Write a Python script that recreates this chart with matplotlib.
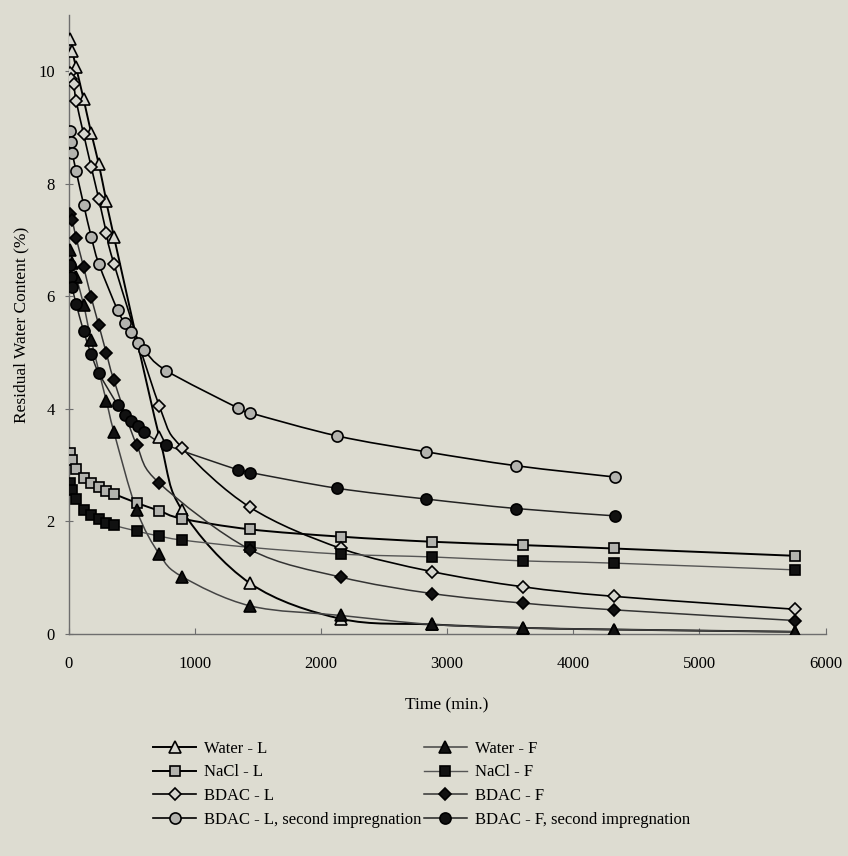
import numpy as np
import matplotlib
matplotlib.use("Agg")
import matplotlib.pyplot as plt
from matplotlib.path import Path
from matplotlib.patches import PathPatch
from matplotlib.lines import Line2D

plt.rcParams['font.family'] = ['Liberation Serif', 'DejaVu Serif']

# residual water content (%) vs. drying time (min.)
water_l_t = [15, 30, 60, 120, 180, 240, 300, 360, 720, 900, 1440, 2160, 2880, 3600, 4320, 5760]
water_l = [10.58, 10.36, 10.07, 9.50, 8.90, 8.35, 7.69, 7.06, 3.50, 2.20, 0.90, 0.27, 0.17, 0.11, 0.08, 0.04]

water_f_t = [15, 30, 60, 120, 180, 300, 360, 540, 720, 900, 1440, 2160, 2880, 3600, 4320, 5760]
water_f = [6.82, 6.60, 6.35, 5.85, 5.22, 4.14, 3.59, 2.20, 1.42, 1.02, 0.50, 0.33, 0.17, 0.11, 0.08, 0.04]

nacl_t = [15, 30, 60, 120, 180, 240, 300, 360, 540, 720, 900, 1440, 2160, 2880, 3600, 4320, 5760]
nacl_l = [3.22, 3.10, 2.94, 2.78, 2.69, 2.61, 2.54, 2.49, 2.33, 2.19, 2.05, 1.86, 1.73, 1.64, 1.58, 1.52, 1.39]
nacl_f = [2.68, 2.56, 2.40, 2.21, 2.11, 2.05, 1.97, 1.93, 1.83, 1.74, 1.67, 1.54, 1.42, 1.37, 1.30, 1.26, 1.14]

bdac_l_t = [10, 20, 40, 60, 120, 180, 240, 300, 360, 720, 900, 1440, 2160, 2880, 3600, 4320, 5760]
bdac_l = [9.97, 9.87, 9.78, 9.48, 8.88, 8.30, 7.73, 7.13, 6.58, 4.05, 3.31, 2.25, 1.52, 1.11, 0.84, 0.67, 0.44]

bdac_f_t = [10, 30, 60, 120, 180, 240, 300, 360, 540, 720, 1440, 2160, 2880, 3600, 4320, 5760]
bdac_f = [7.47, 7.35, 7.04, 6.52, 5.98, 5.49, 4.99, 4.51, 3.36, 2.68, 1.50, 1.01, 0.72, 0.55, 0.43, 0.24]

second_t = [15, 20, 30, 60, 120, 180, 240, 390, 450, 495, 550, 600, 775, 1340, 1440, 2130, 2830, 3550, 4330]
bdac_l2 = [8.93, 8.74, 8.55, 8.23, 7.63, 7.06, 6.58, 5.75, 5.52, 5.36, 5.18, 5.04, 4.68, 4.02, 3.93, 3.52, 3.24, 2.99, 2.79]
bdac_f2 = [6.55, 6.35, 6.16, 5.87, 5.38, 4.97, 4.64, 4.07, 3.89, 3.79, 3.69, 3.59, 3.36, 2.92, 2.87, 2.59, 2.40, 2.23, 2.10]

BG = '#dddcd1'
GREY = '#b3b3ae'
LIGHT = '#d6d6cf'
DARK = '#111111'


def smooth_path(x, y):
    # Excel style smoothed line: cubic bezier through the points
    p = np.column_stack([x, y]).astype(float)
    n = len(p)
    verts = [p[0]]
    codes = [Path.MOVETO]
    for i in range(n - 1):
        a = p[i - 1] if i > 0 else p[i]
        d = p[i + 2] if i + 2 < n else p[i + 1]
        verts += [p[i] + (p[i + 1] - a) / 6, p[i + 1] - (d - p[i]) / 6, p[i + 1]]
        codes += [Path.CURVE4] * 3
    return Path(verts, codes)


series = [
    ("Water - L", water_l_t, water_l, '^', 8, LIGHT, 'black', 1.4),
    ("NaCl - L", nacl_t, nacl_l, 's', 7, GREY, 'black', 1.4),
    ("BDAC - L", bdac_l_t, bdac_l, 'D', 6, LIGHT, 'black', 1.2),
    ("BDAC - L, second impregnation", second_t, bdac_l2, 'o', 8, GREY, 'black', 1.2),
    ("Water - F", water_f_t, water_f, '^', 8, DARK, '#444444', 1.1),
    ("NaCl - F", nacl_t, nacl_f, 's', 7, DARK, '#555555', 1.0),
    ("BDAC - F", bdac_f_t, bdac_f, 'D', 6, DARK, '#333333', 1.1),
    ("BDAC - F, second impregnation", second_t, bdac_f2, 'o', 8, DARK, '#222222', 1.1),
]

fig = plt.figure(figsize=(8.48, 8.56), dpi=100, facecolor=BG)
ax = fig.add_axes([0.0808, 0.2593, 0.8927, 0.7232])
ax.set_facecolor(BG)

handles = []
for label, t, v, mk, ms, fc, lc, lw in series:
    ax.add_patch(PathPatch(smooth_path(t, v), facecolor='none', edgecolor=lc, lw=lw, zorder=2))
    ax.plot(t, v, linestyle='none', marker=mk, ms=ms, mfc=fc, mec='black', mew=1.2, zorder=3)
    handles.append(Line2D([], [], color=lc, lw=lw, marker=mk, ms=ms, mfc=fc, mec='black', mew=1.2, label=label))

ax.set_xlim(0, 6000)
ax.set_ylim(0, 11)
ax.set_xticks(range(0, 7000, 1000))
ax.set_yticks(range(0, 12, 2))
for s in ['top', 'right']:
    ax.spines[s].set_visible(False)
for s in ['left', 'bottom']:
    ax.spines[s].set_color('#6e6e6e')
    ax.spines[s].set_linewidth(1.0)
ax.tick_params(axis='x', direction='in', length=4, color='#6e6e6e', pad=16, labelsize=12)
ax.tick_params(axis='y', direction='inout', length=6, color='#6e6e6e', pad=7, labelsize=12)
ax.set_xlabel("Time (min.)", fontsize=12.5, labelpad=18)
ax.set_ylabel("Residual Water Content (%)", fontsize=12.5, labelpad=6)

fig.legend(handles=handles, ncol=2, loc='upper left', bbox_to_anchor=(153 / 848, 1 - 741 / 856),
           frameon=False, fontsize=12, handlelength=2.6, handletextpad=0.45, columnspacing=0.15,
           labelspacing=0.45, borderpad=0, borderaxespad=0)

fig.savefig("out.png", dpi=100, facecolor=BG)
